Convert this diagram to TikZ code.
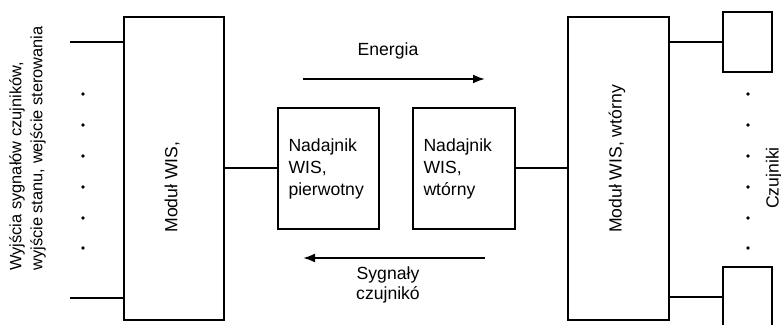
\documentclass[tikz,border=0pt]{standalone}
\usepackage{fontspec}
\setmainfont{Liberation Sans}
\usepackage{tikz}
\usetikzlibrary{shapes,arrows,arrows.meta}
\tikzstyle{block} = [rectangle, draw, line width=1pt, fill=white, inner sep=0pt]
\tikzstyle{wire} = [draw, line width=1pt]
\tikzstyle{arrow} = [draw, line width=1pt, -{Latex[length=6pt, width=4.5pt]}]
\tikzstyle{sidetext} = [rotate=90, inner sep=0pt, align=left]

\begin{document}
\begin{tikzpicture}[x=0.5pt, y=-0.5pt, font=\fontsize{8.8}{11}\selectfont]
\useasboundingbox (0,0) rectangle (781,325);
\clip (0,0) rectangle (781,325);

%% primary module
\node[block, minimum width=50pt, minimum height=151.5pt] at (174, 168.5) (modprim) {};
\node[rotate=90] at (172, 187) (modprimtext) {Moduł WIS,};
\node[sidetext, anchor=west, font=\fontsize{8.2}{10.5}\selectfont] at (27.5, 271) (outputs) {Wyjścia sygnałów czujników,\\wyjście stanu, wejście sterowania};
\coordinate (outtop) at (70, 42);
\coordinate (outbot) at (70, 298);
\path[wire] (outtop) -- (outtop -| modprim.west);
\path[wire] (outbot) -- (outbot -| modprim.west);
\foreach \y in {94, 125, 156, 187, 218, 248}
  \fill (83, \y) circle (0.9pt);

%% transmitters
\node[block, minimum width=50.5pt, minimum height=60.5pt, text width=40pt, inner xsep=5pt, align=left] at (328.5, 168.5) (nadprim) {Nadajnik\\WIS,\\pierwotny};
\node[block, minimum width=50.5pt, minimum height=60.5pt, text width=40pt, inner xsep=5.5pt, align=left] at (463.5, 168.5) (nadwt) {Nadajnik\\WIS,\\wtórny};
\path[wire] (nadprim.west) -- (nadprim.west -| modprim.east);

\node at (388, 51) (energia) {Energia};
\coordinate (enstart) at (303, 79);
\coordinate (enend) at (485, 79);
\path[arrow] (enstart) -- (enend);

\coordinate (sygstart) at (485, 258);
\coordinate (sygend) at (303, 258);
\path[arrow] (sygstart) -- (sygend);
\node[align=center, font=\fontsize{8.8}{10}\selectfont] at (388, 285) (sygnaly) {Sygnały\\czujnikó};

%% secondary module
\node[block, minimum width=50.5pt, minimum height=151.5pt] at (618.5, 168.5) (modwt) {};
\node[rotate=90] at (617, 159) (modwttext) {Moduł WIS, wtórny};
\path[wire] (nadwt.east) -- (nadwt.east -| modwt.west);

%% sensors
\node[block, minimum width=24.5pt, minimum height=30pt] at (747.5, 42) (czujtop) {};
\node[block, minimum width=24.5pt, minimum height=30pt] at (747.5, 297) (czujbot) {};
\path[wire] (czujtop.west -| modwt.east) -- (czujtop.west);
\path[wire] (czujbot.west -| modwt.east) -- (czujbot.west);
\foreach \y in {94, 125, 156, 187, 218, 248}
  \fill (748, \y) circle (0.9pt);
\node[rotate=90] at (774, 178) (czujniki) {Czujniki};

\end{tikzpicture}
\end{document}
